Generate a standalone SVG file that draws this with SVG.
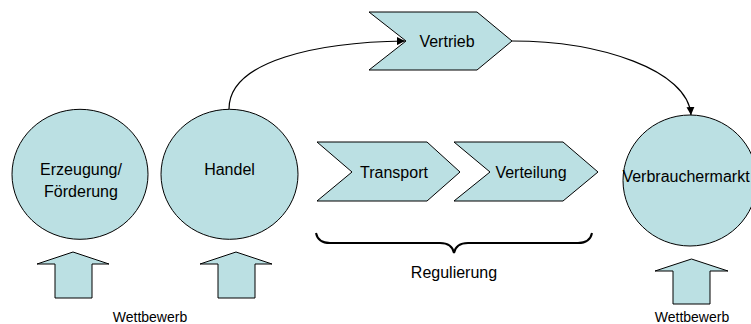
<svg xmlns="http://www.w3.org/2000/svg" width="751" height="324" viewBox="0 0 751 324">
<style>
.shape{fill:#BBE0E3;stroke:#000;stroke-width:1}
.t{font-family:"Liberation Sans",Arial,sans-serif;font-size:16px;fill:#000;text-anchor:middle}
.s{font-family:"Liberation Sans",Arial,sans-serif;font-size:14px;fill:#000;text-anchor:middle}
.c{fill:none;stroke:#000;stroke-width:1.2}
.brace{fill:none;stroke:#000;stroke-width:2}
</style>
<defs>
<marker id="ah" viewBox="0 0 10 10" refX="10" refY="5" markerWidth="8" markerHeight="8" markerUnits="userSpaceOnUse" orient="auto">
<path d="M0,0 L10,5 L0,10 z" fill="#000"/>
</marker>
</defs>
<rect width="751" height="324" fill="#fff"/>
<g id="erzeugung">
<ellipse class="shape" cx="80" cy="174.3" rx="68" ry="65"/>
<text class="t" x="81" y="175">Erzeugung/</text>
<text class="t" x="81" y="197">Förderung</text>
</g>
<g id="handel">
<ellipse class="shape" cx="229.5" cy="174.3" rx="68.5" ry="65"/>
<text class="t" x="229.5" y="175">Handel</text>
</g>
<g id="vertrieb">
<polygon class="shape" points="369,12 477,12 512,41 477,70 369,70 406,41"/>
<text class="t" x="447" y="46.5">Vertrieb</text>
</g>
<g id="transport">
<polygon class="shape" points="317,142 427,142 460,172 427,201 317,201 352,172"/>
<text class="t" x="394" y="178">Transport</text>
</g>
<g id="verteilung">
<polygon class="shape" points="454,142 563,142 598,172 563,201 454,201 490,172"/>
<text class="t" x="531" y="178">Verteilung</text>
</g>
<g id="verbrauchermarkt">
<ellipse class="shape" cx="690" cy="180.5" rx="67" ry="65.5"/>
<text class="t" x="686" y="181.5">Verbrauchermarkt</text>
</g>
<g id="regulierung">
<path class="brace" d="M316,233 Q318,243 330,243 L440,243 Q452,243 454,253 Q456,243 468,243 L578,243 Q590,243 592,233"/>
<text class="t" x="454" y="278.3">Regulierung</text>
</g>
<g id="wettbewerb-arrows">
<polygon class="shape" points="73,252 109,264 92,264 92,298 55,298 55,264 37,264"/>
<polygon class="shape" points="236,252 272,264 255,264 255,298 218,298 218,264 200,264"/>
<polygon class="shape" points="691.5,259 728,271 710,271 710,304 673,304 673,271 655,271"/>
<text class="s" x="150" y="322">Wettbewerb</text>
<text class="s" x="692" y="322">Wettbewerb</text>
</g>
<g id="connectors">
<path class="c" d="M229,109 C229,60 320,42 405,41" marker-end="url(#ah)"/>
<path class="c" d="M512,41 C600,41 688,70 691,115" marker-end="url(#ah)"/>
</g>
</svg>
